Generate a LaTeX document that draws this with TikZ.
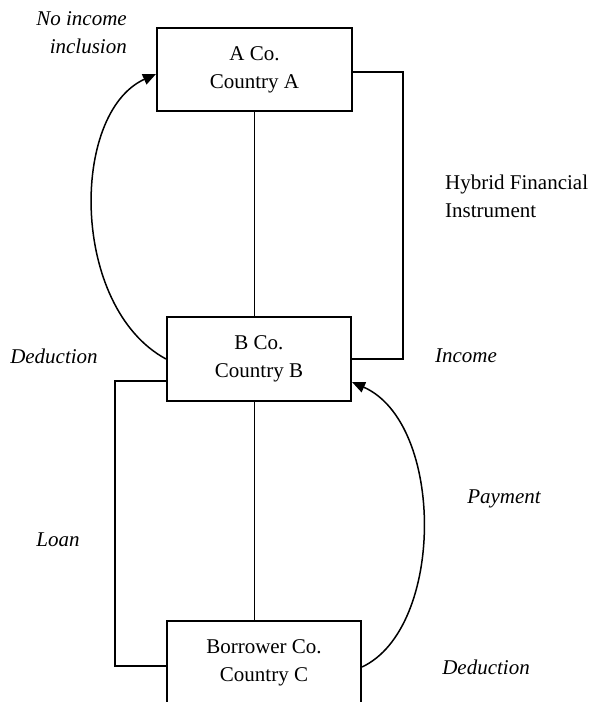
\documentclass[tikz,border=0pt]{standalone}
\usepackage{fontspec}
\setmainfont{Liberation Serif}
\usetikzlibrary{arrows.meta,calc}
\begin{document}
\begin{tikzpicture}[x=1pt,y=-1pt,
  every node/.style={font=\fontsize{21}{28}\selectfont},
  entity/.style={draw, line width=2pt, minimum height=84pt, align=center, inner sep=0pt},
  link/.style={line width=1.5pt},
  flow/.style={line width=1.5pt, -{Triangle[length=13pt,width=11pt]}},
  lbl/.style={inner sep=0pt, font=\fontsize{21}{28}\selectfont\itshape},
  note/.style={inner sep=0pt, align=left}
]
\useasboundingbox (0,0) rectangle (590,702);
\clip (0,0) rectangle (590,702);
\fill[white] (0,0) rectangle (590,702);

\node[entity, minimum width=195pt, minimum height=83pt] (A) at (254.5,69.5) {A Co.\\Country A};
\node[entity, minimum width=184pt] (B) at (259,359) {B Co.\\Country B};
\node[entity, minimum width=194pt] (C) at (264,663) {Borrower Co.\\Country C};

% vertical links
\draw[link] (A.south) -- (A.south |- B.north);
\draw[link] (A.south |- B.south) -- (A.south |- C.north);

% hybrid financial instrument bracket
\draw[link] ([yshift=-2.5pt]A.east) -| ([xshift=51pt]B.east) -- (B.east);

% loan bracket
\draw[link] ([yshift=-22pt]B.west) -- ++(-51,0) |- ([yshift=-3pt]C.west);

% curved flows
\draw[flow] (B.west) .. controls (70,307) and (70,113) .. ([yshift=-4.5pt]A.west);
\draw[flow] ([yshift=-4pt]C.east) .. controls (445,628) and (445,423) .. ([yshift=-23pt]B.east);

% labels
\node[lbl, align=right, anchor=east] (noinc) at (127,32.5) {No income\\inclusion};
\node[note, anchor=west] (hfi) at (445,196) {Hybrid Financial\\Instrument};
\node[lbl] (ded1) at (54,356) {Deduction};
\node[lbl] (inc) at (466,356) {Income};
\node[lbl] (loan) at (58,540) {Loan};
\node[lbl] (pay) at (504,499) {Payment};
\node[lbl] (ded2) at (486,667) {Deduction};
\end{tikzpicture}
\end{document}
